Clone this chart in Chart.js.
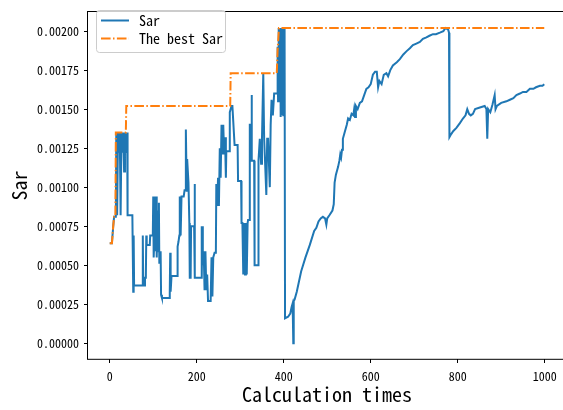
<!DOCTYPE html>
<html>
<head>
<meta charset="UTF-8">
<title>Sar</title>
<script src="https://cdn.jsdelivr.net/npm/chart.js@4.4.0"></script>
<style>
  html, body { margin: 0; padding: 0; background: #fff; }
  #wrap { width: 563px; height: 410px; overflow: hidden; }
</style>
</head>
<body>
<div id="wrap"><canvas id="sarChart" width="572" height="410"></canvas></div>
<script>
// Sar per calculation step
const sarIter = [0, 5, 8, 10, 14, 15, 17, 19, 21, 23, 25, 27, 29, 31, 33, 35, 37, 40, 41, 52,
  53, 54, 55, 56, 75, 76, 77, 80, 81, 83, 84, 85, 92, 93, 99, 100, 101, 103, 104, 105,
  107, 108, 110, 111, 113, 114, 117, 118, 120, 137, 138, 139, 140, 142, 155, 156, 158, 160, 161, 163,
  165, 170, 172, 174, 175, 176, 177, 178, 181, 183, 184, 186, 187, 194, 195, 196, 210, 211, 212, 213,
  214, 216, 218, 220, 222, 224, 226, 232, 234, 236, 238, 241, 244, 245, 247, 249, 251, 253, 255, 257,
  259, 261, 263, 265, 267, 268, 275, 276, 280, 282, 284, 287, 294, 295, 302, 303, 305, 307, 309, 311,
  313, 315, 317, 318, 321, 322, 325, 326, 327, 332, 333, 341, 342, 345, 348, 350, 353, 355, 357, 360,
  362, 364, 368, 370, 372, 375, 378, 385, 386, 387, 388, 389, 390, 391, 392, 393, 394, 395, 396, 397,
  398, 399, 400, 401, 402, 403, 410, 415, 418, 420, 421, 422, 423, 425, 430, 440, 450, 460, 470, 475,
  480, 485, 490, 495, 498, 500, 505, 512, 515, 517, 520, 525, 528, 530, 532, 534, 536, 540, 545, 548,
  552, 556, 560, 562, 564, 566, 570, 575, 580, 585, 590, 595, 600, 605, 610, 614, 617, 620, 625, 630,
  636, 640, 645, 651, 660, 667, 675, 682, 690, 697, 705, 713, 720, 728, 735, 743, 750, 759, 767, 772,
  778, 780, 781, 785, 790, 797, 805, 812, 818, 822, 826, 830, 835, 840, 851, 862, 866, 868, 870, 875,
  880, 885, 887, 890, 900, 912, 920, 928, 935, 943, 950, 958, 966, 974, 980, 989, 995, 999];
const sarVals = [0.00064, 0.00064, 0.00075, 0.00081, 0.00081, 0.00135, 0.00082, 0.00135, 0.00122, 0.00135,
  0.00082, 0.00135, 0.00122, 0.00135, 0.00110, 0.00135, 0.00122, 0.00135, 0.00082, 0.00082,
  0.00082, 0.00033, 0.00069, 0.00037, 0.00037, 0.00069, 0.00037, 0.00037, 0.00042, 0.00042,
  0.00069, 0.00063, 0.00063, 0.00069, 0.00069, 0.00094, 0.00055, 0.00069, 0.00094, 0.00059,
  0.00094, 0.00055, 0.00085, 0.00059, 0.00090, 0.00051, 0.00059, 0.00031, 0.00029, 0.00029,
  0.00033, 0.00058, 0.00033, 0.00043, 0.00043, 0.00062, 0.00065, 0.00069, 0.00094, 0.00069,
  0.00094, 0.00094, 0.00098, 0.00098, 0.00137, 0.00118, 0.00097, 0.00118, 0.00103, 0.00077,
  0.00042, 0.00042, 0.00075, 0.00075, 0.00102, 0.00042, 0.00042, 0.00075, 0.00042, 0.00075,
  0.00050, 0.00059, 0.00034, 0.00059, 0.00034, 0.00044, 0.00027, 0.00027, 0.00055, 0.00030,
  0.00055, 0.00058, 0.00058, 0.00102, 0.00088, 0.00106, 0.00088, 0.00125, 0.00106, 0.00140,
  0.00121, 0.00140, 0.00121, 0.00132, 0.00106, 0.00123, 0.00123, 0.00148, 0.00152, 0.00152,
  0.00142, 0.00127, 0.00127, 0.00104, 0.00104, 0.00077, 0.00077, 0.00044, 0.00077, 0.00044,
  0.00077, 0.00044, 0.00077, 0.00079, 0.00079, 0.00140, 0.00140, 0.00159, 0.00117, 0.00117,
  0.00050, 0.00050, 0.00117, 0.00131, 0.00115, 0.00131, 0.00173, 0.00131, 0.00117, 0.00095,
  0.00131, 0.00131, 0.00100, 0.00140, 0.00156, 0.00146, 0.00160, 0.00160, 0.00190, 0.00155,
  0.00202, 0.00165, 0.00202, 0.00170, 0.00202, 0.00145, 0.00202, 0.00146, 0.00202, 0.00160,
  0.00202, 0.00146, 0.00202, 0.00146, 0.00202, 0.00016, 0.00017, 0.00019, 0.00023, 0.00025,
  0.00017, 0.00000, 0.00027, 0.00028, 0.00033, 0.00046, 0.00055, 0.00063, 0.00072, 0.00074,
  0.00078, 0.00080, 0.00081, 0.00080, 0.00076, 0.00080, 0.00082, 0.00085, 0.00089, 0.00103,
  0.00108, 0.00113, 0.00117, 0.00121, 0.00119, 0.00124, 0.00131, 0.00135, 0.00140, 0.00144,
  0.00143, 0.00147, 0.00146, 0.00150, 0.00145, 0.00152, 0.00150, 0.00154, 0.00155, 0.00159,
  0.00163, 0.00164, 0.00166, 0.00172, 0.00174, 0.00174, 0.00164, 0.00168, 0.00166, 0.00172,
  0.00173, 0.00171, 0.00175, 0.00178, 0.00180, 0.00182, 0.00185, 0.00187, 0.00189, 0.00191,
  0.00192, 0.00193, 0.00195, 0.00196, 0.00197, 0.00198, 0.00198, 0.00199, 0.00200, 0.00202,
  0.00201, 0.00199, 0.00132, 0.00134, 0.00136, 0.00138, 0.00141, 0.00144, 0.00146, 0.00150,
  0.00147, 0.00146, 0.00147, 0.00150, 0.00151, 0.00152, 0.00150, 0.00131, 0.00150, 0.00148,
  0.00153, 0.00159, 0.00150, 0.00152, 0.00154, 0.00155, 0.00156, 0.00157, 0.00159, 0.00160,
  0.00161, 0.00161, 0.00163, 0.00163, 0.00164, 0.00165, 0.00165, 0.00166];

// best Sar found so far
const bestIter = [0, 5, 8, 10, 13, 14, 37, 38, 277, 278, 384, 386, 389, 999];
const bestVals = [0.00064, 0.00064, 0.00075, 0.00081, 0.00081, 0.00135, 0.00135, 0.00152, 0.00152, 0.00173,
  0.00173, 0.00188, 0.00202, 0.00202];

const xTicks = [0, 200, 400, 600, 800, 1000];
const yTicks = [0, 0.00025, 0.0005, 0.00075, 0.001, 0.00125, 0.0015, 0.00175, 0.002];

const FONT = '"Noto Sans Mono CJK SC", "DejaVu Sans Mono", monospace';
Chart.defaults.font.family = FONT;
Chart.defaults.color = '#000';

const toPoints = (xs, ys) => xs.map((x, i) => ({ x: x, y: ys[i] }));

// matplotlib-ish box around the axes plus the legend in the upper left corner
const boxAndLegend = {
  id: 'boxAndLegend',
  afterDraw(chart) {
    const { ctx, chartArea: a } = chart;
    ctx.save();
    ctx.strokeStyle = '#000';
    ctx.lineWidth = 1;
    ctx.strokeRect(Math.round(a.left) - 0.5, Math.round(a.top) - 0.5, a.right - a.left, a.bottom - a.top + 1);

    ctx.beginPath();
    ctx.roundRect(96.5, 10.5, 129, 42, 3);
    ctx.fillStyle = 'rgba(255,255,255,0.8)';
    ctx.fill();
    ctx.strokeStyle = '#cccccc';
    ctx.stroke();

    ctx.lineWidth = 2;
    ctx.strokeStyle = '#1f77b4';
    ctx.beginPath(); ctx.moveTo(101, 20.5); ctx.lineTo(129, 20.5); ctx.stroke();
    ctx.strokeStyle = '#ff7f0e';
    ctx.setLineDash([9.6, 2.4, 1.5, 2.4]);
    ctx.beginPath(); ctx.moveTo(101, 38.5); ctx.lineTo(129, 38.5); ctx.stroke();
    ctx.setLineDash([]);

    ctx.fillStyle = '#000';
    ctx.font = '14px ' + FONT;
    ctx.textBaseline = 'middle';
    ctx.fillText('Sar', 139, 21);
    ctx.fillText('The best Sar', 139, 39);
    ctx.restore();
  }
};

new Chart(document.getElementById('sarChart'), {
  type: 'line',
  data: {
    datasets: [
      {
        label: 'The best Sar',
        data: toPoints(bestIter, bestVals),
        borderColor: '#ff7f0e',
        borderWidth: 2,
        borderDash: [9.6, 2.4, 1.5, 2.4],
        pointRadius: 0,
        tension: 0,
        fill: false
      },
      {
        label: 'Sar',
        data: toPoints(sarIter, sarVals),
        borderColor: '#1f77b4',
        borderWidth: 2,
        pointRadius: 0,
        tension: 0,
        fill: false
      }
    ]
  },
  options: {
    responsive: false,
    animation: false,
    events: [],
    layout: { padding: { left: 0, top: 5, right: 6, bottom: 0 } },
    plugins: {
      legend: { display: false },
      tooltip: { enabled: false }
    },
    scales: {
      x: {
        type: 'linear',
        min: -50,
        max: 1049,
        afterBuildTicks: s => { s.ticks = xTicks.map(v => ({ value: v })); },
        afterFit: s => { s.height = 51; },
        grid: { drawOnChartArea: false, drawTicks: true, tickLength: 4, color: '#000' },
        border: { display: false },
        ticks: { padding: 6, font: { size: 12 }, maxRotation: 0, callback: v => String(v) },
        title: { display: true, text: 'Calculation times', font: { size: 20 }, padding: { top: 0, bottom: 4 } }
      },
      y: {
        type: 'linear',
        min: -0.000101,
        max: 0.002121,
        afterBuildTicks: s => { s.ticks = yTicks.map(v => ({ value: v })); },
        afterFit: s => { s.width = 88; },
        grid: { drawOnChartArea: false, drawTicks: true, tickLength: 4, color: '#000' },
        border: { display: false },
        ticks: { padding: 5, font: { size: 12 }, callback: v => v.toFixed(5) },
        title: { display: true, text: 'Sar', font: { size: 20 }, padding: { top: 7, bottom: 0 } }
      }
    }
  },
  plugins: [boxAndLegend]
});
</script>
</body>
</html>
